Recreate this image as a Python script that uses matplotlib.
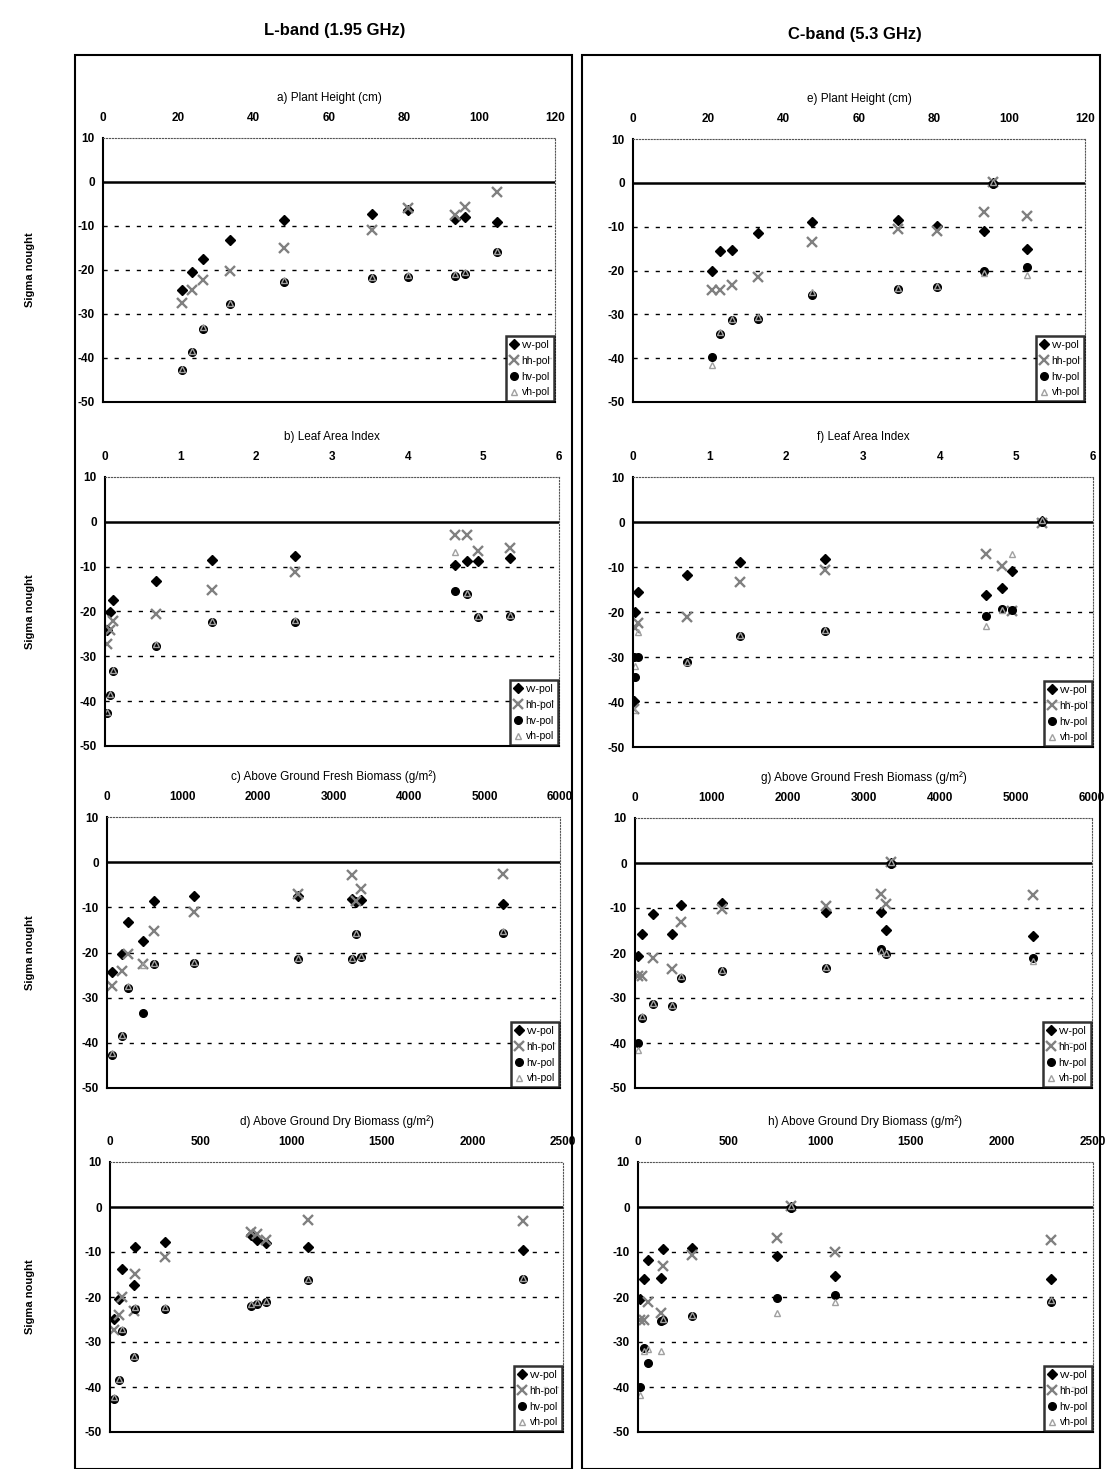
import matplotlib
matplotlib.use("Agg")
import matplotlib.pyplot as plt
from matplotlib.patches import Rectangle

plt.rcParams['font.family'] = ['Liberation Sans', 'DejaVu Sans']
plt.rcParams['axes.unicode_minus'] = False

# ---------- data ----------
pols = ["vv-pol", "hh-pol", "hv-pol", "vh-pol"]

# a) L-band, plant height (cm)
x_a = [21, 23.5, 26.6, 33.8, 48, 71.3, 81, 93.4, 96.1, 104.5]
vv_a = [-24.6, -20.4, -17.6, -13.2, -8.7, -7.3, -6.4, -8.5, -7.9, -9.0]
hh_a = [-27.5, -24.6, -22.3, -20.2, -15.1, -10.8, -6.0, -7.5, -5.6, -2.2]
hv_a = [-42.8, -38.6, -33.3, -27.8, -22.7, -21.9, -21.6, -21.4, -20.8, -15.9]
vh_a = [-42.5, -38.3, -33.0, -27.5, -22.3, -21.6, -21.2, -21.0, -20.5, -15.6]

# b) L-band, leaf area index
x_b = [0.03, 0.06, 0.10, 0.68, 1.41, 2.51, 4.63, 4.79, 4.93, 5.35]
vv_b = [-24.1, -20.2, -17.4, -13.3, -8.5, -7.7, -9.6, -8.8, -8.8, -8.1]
hh_b = [-27.2, -24.1, -22.2, -20.5, -15.2, -11.1, -2.9, -2.9, -6.6, -5.9]
hv_b = [-42.7, -38.6, -33.2, -27.6, -22.4, -22.4, -15.5, -16.1, -21.3, -21.1]
vh_b = [-42.5, -38.3, -33.0, -27.3, -22.1, -22.0, -6.8, -15.8, -21.0, -20.8]

# c) L-band, above ground fresh biomass (g/m2)
x_c = [60, 200, 280, 480, 628, 1150, 2529, 3240, 3300, 3360, 5247]
vv_c = [-24.4, -20.4, -13.3, -17.4, -8.7, -7.6, -7.5, -8.1, -8.9, -8.4, -9.3]
hh_c = [-27.4, -24.1, -20.4, -22.6, -15.2, -11.0, -7.0, -2.8, -8.6, -5.9, -2.6]
hv_c = [-42.6, -38.5, -27.8, -33.3, -22.6, -22.4, -21.5, -21.5, -15.9, -21.1, -15.6]
vh_c = [-42.3, -38.2, -27.5, -22.8, -22.4, -22.1, -21.2, -21.3, -15.6, -20.8, -15.3]

# d) L-band, above ground dry biomass (g/m2)
x_d = [20, 50, 65, 130, 140, 305, 780, 810, 860, 1095, 2280]
vv_d = [-24.8, -20.4, -13.7, -17.4, -8.9, -7.8, -6.3, -7.4, -8.1, -8.9, -9.6]
hh_d = [-27.4, -24.1, -20.0, -23.0, -14.8, -11.1, -5.6, -6.0, -7.4, -2.8, -3.1]
hv_d = [-42.6, -38.5, -27.5, -33.3, -22.6, -22.6, -21.9, -21.5, -21.1, -16.3, -16.1]
vh_d = [-42.3, -38.2, -27.2, -33.0, -22.3, -22.3, -21.6, -21.2, -20.8, -16.0, -15.8]

# e) C-band, plant height (cm)
x_e = [21, 23, 26.4, 33.2, 47.6, 70.4, 80.6, 93.2, 95.6, 104.5]
vv_e = [-20.2, -15.5, -15.3, -11.5, -9.0, -8.5, -9.9, -10.9, 0.0, -15.1]
hh_e = [-24.5, -24.5, -23.2, -21.4, -13.6, -10.5, -11.1, -6.7, 0.3, -7.5]
hv_e = [-39.7, -34.5, -31.4, -31.0, -25.5, -24.2, -23.8, -20.2, -0.2, -19.2]
vh_e = [-41.6, -34.0, -31.0, -30.5, -25.0, -24.0, -23.5, -20.5, 0.2, -21.1]

# f) C-band, leaf area index
x_f = [0.01, 0.03, 0.07, 0.71, 1.40, 2.51, 4.60, 4.81, 4.94, 5.33]
vv_f = [-39.7, -20.1, -15.6, -11.7, -8.9, -8.3, -16.3, -14.7, -10.9, 0.2]
hh_f = [-41.6, -23.6, -22.5, -21.2, -13.4, -10.6, -7.0, -9.7, -19.8, -0.2]
hv_f = [-29.9, -34.4, -30.0, -31.2, -25.3, -24.2, -20.8, -19.3, -19.5, 0.0]
vh_f = [-41.8, -32.0, -24.5, -31.0, -25.0, -24.0, -23.2, -19.6, -7.0, 0.4]

# g) C-band, above ground fresh biomass (g/m2)
x_g = [44, 90, 230, 480, 600, 1143, 2505, 3231, 3297, 3363, 5231]
vv_g = [-20.7, -15.8, -11.4, -15.8, -9.3, -8.8, -10.8, -10.8, -14.9, 0.0, -16.3]
hh_g = [-25.1, -25.1, -21.2, -23.5, -13.2, -10.3, -9.5, -6.9, -9.1, 0.3, -7.1]
hv_g = [-40.0, -34.4, -31.4, -31.8, -25.5, -24.0, -23.3, -19.2, -20.3, -0.2, -21.0]
vh_g = [-41.5, -34.0, -31.0, -31.5, -25.2, -23.7, -23.0, -19.5, -20.0, 0.2, -21.8]

# h) C-band, above ground dry biomass (g/m2)
x_h = [10, 35, 55, 125, 135, 297, 765, 839, 1083, 2271]
vv_h = [-20.4, -16.0, -11.7, -15.8, -9.3, -9.1, -10.8, 0.0, -15.3, -16.1]
hh_h = [-25.0, -25.0, -21.0, -23.6, -13.2, -10.6, -6.9, 0.3, -9.9, -7.3]
hv_h = [-39.9, -31.3, -34.7, -25.4, -25.0, -24.3, -20.2, -0.2, -19.5, -21.0]
vh_h = [-41.7, -31.9, -31.5, -31.9, -24.8, -24.0, -23.6, 0.2, -21.0, -20.6]

titles = ["a) Plant Height (cm)", "b) Leaf Area Index",
          "c) Above Ground Fresh Biomass (g/m\u00b2)", "d) Above Ground Dry Biomass (g/m\u00b2)",
          "e) Plant Height (cm)", "f) Leaf Area Index",
          "g) Above Ground Fresh Biomass (g/m\u00b2)", "h) Above Ground Dry Biomass (g/m\u00b2)"]

# ---------- figure ----------
W, H = 1105, 1469
fig = plt.figure(figsize=(W / 100, H / 100), dpi=100)

def rect(l, r, t, b):
    return [l / W, 1 - b / H, (r - l) / W, (b - t) / H]

# panel boxes in pixels: left, right, top, bottom
boxes = [(103, 555, 138, 402), (105, 559, 477, 746), (107, 560, 817, 1088), (110, 563, 1162, 1432),
         (633, 1085, 139, 402), (633, 1093, 477, 747), (635, 1092, 818, 1088), (638, 1093, 1162, 1432)]
xlims = [120, 6, 6000, 2500] * 2
xsteps = [20, 1, 1000, 500] * 2
panels = [(x_a, vv_a, hh_a, hv_a, vh_a), (x_b, vv_b, hh_b, hv_b, vh_b),
          (x_c, vv_c, hh_c, hv_c, vh_c), (x_d, vv_d, hh_d, hv_d, vh_d),
          (x_e, vv_e, hh_e, hv_e, vh_e), (x_f, vv_f, hh_f, hv_f, vh_f),
          (x_g, vv_g, hh_g, hv_g, vh_g), (x_h, vv_h, hh_h, hv_h, vh_h)]

styles = [dict(marker='D', color='black', ms=5.5),
          dict(marker='x', color='#808080', ms=6.5, mew=1.7),
          dict(marker='o', color='black', ms=5.5),
          dict(marker='^', color='#a0a0a0', ms=4.5, mfc='none', mew=1.0)]

for i, (box, data) in enumerate(zip(boxes, panels)):
    ax = fig.add_axes(rect(*box))
    x = data[0]
    for ys, st, lab in zip(data[1:], styles, pols):
        ax.plot(x, ys, ls='none', label=lab, **st)
    ax.set_xlim(0, xlims[i])
    ax.set_ylim(-50, 10)
    ax.set_xticks(range(0, xlims[i] + 1, xsteps[i]))
    ax.set_yticks(range(-50, 11, 10))
    ax.xaxis.tick_top()
    ax.tick_params(axis='x', length=0, labelsize=8.5, pad=10)
    ax.tick_params(axis='y', length=0, labelsize=8.5, pad=6)
    for lbl in ax.get_xticklabels() + ax.get_yticklabels():
        lbl.set_fontweight('bold')
    for yv in [-10, -20, -30, -40]:
        ax.axhline(yv, color='black', ls=(0, (3, 5)), lw=1.0, zorder=0)
    ax.axhline(0, color='black', lw=1.8, zorder=1)
    for s in ['left', 'bottom']:
        ax.spines[s].set_linewidth(1.5)
    for s in ['top', 'right']:
        ax.spines[s].set_linestyle(':')
        ax.spines[s].set_color('#555555')
    ax.set_title(titles[i], fontsize=8.5, pad=8)
    leg = ax.legend(loc='lower right', fontsize=7.5, frameon=True, fancybox=False,
                    handlelength=0.8, handletextpad=0.3, borderpad=0.35,
                    labelspacing=0.55, borderaxespad=0.1)
    leg.get_frame().set_edgecolor('black')
    leg.get_frame().set_linewidth(1.8)
    if i < 4:
        yc = (box[2] + box[3]) / 2
        fig.text(30 / W, 1 - yc / H, "Sigma nought", rotation=90, fontsize=8,
                 fontweight='bold', ha='center', va='center')

# column frames and headers
fig.patches.append(Rectangle((75 / W, 0), (572 - 75) / W, 1 - 55 / H, transform=fig.transFigure,
                             fill=False, lw=1.5, ec='black'))
fig.patches.append(Rectangle((582 / W, 0), (1100 - 582) / W, 1 - 55 / H, transform=fig.transFigure,
                             fill=False, lw=1.5, ec='black'))
fig.text(335 / W, 1 - 30 / H, "L-band (1.95 GHz)", fontsize=12, fontweight='bold',
         ha='center', va='center')
fig.text(855 / W, 1 - 35 / H, "C-band (5.3 GHz)", fontsize=12, fontweight='bold',
         ha='center', va='center')

fig.savefig("out.png", dpi=100)
